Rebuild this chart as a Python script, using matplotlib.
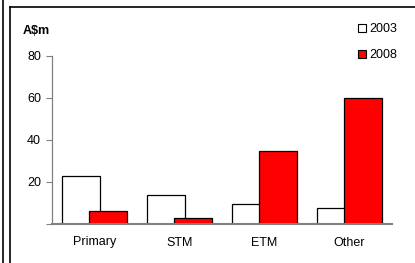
import matplotlib
matplotlib.use("Agg")
import matplotlib.pyplot as plt
from matplotlib.lines import Line2D

# data
categories = ["Primary", "STM", "ETM", "Other"]
years = ["2003", "2008"]
vals_2003 = [23, 14, 9.5, 7.5]
vals_2008 = [6, 3, 35, 60]
y_ticks = [0, 20, 40, 60, 80]

plt.rcParams["font.family"] = ["Liberation Sans", "DejaVu Sans"]

fig = plt.figure(figsize=(4.15, 2.63), dpi=100)
W, H = 415, 263

# panel frame (partial, like the cropped source)
fig.add_artist(Line2D([3 / W, 3 / W], [0, 1], color="black", lw=1.2))
fig.add_artist(Line2D([10 / W, 10 / W], [0, 1 - 6.5 / H], color="black", lw=1.2))
fig.add_artist(Line2D([10 / W, 1], [1 - 6.5 / H, 1 - 6.5 / H], color="black", lw=1.2))

ax = fig.add_axes([52 / W, (H - 224) / H, 340 / W, 168 / H])

x = range(len(categories))
w = 0.45
off = 0.16
ax.bar([i - off for i in x], vals_2003, width=w, color="white",
       edgecolor="black", lw=0.9, label=years[0], zorder=2)
ax.bar([i + off for i in x], vals_2008, width=w, color="#ff0000",
       edgecolor="black", lw=0.9, label=years[1], zorder=3)

ax.set_xlim(-0.5, 3.5)
ax.set_ylim(0, 80)
ax.set_yticks(y_ticks)
ax.set_yticklabels(["" if t == 0 else str(t) for t in y_ticks], fontsize=9)
ax.set_xticks(list(x))
ax.set_xticklabels(categories, fontsize=9)
ax.tick_params(axis="x", length=0, pad=9)
ax.tick_params(axis="y", length=4, width=0.8, color="#808080", pad=4)

for s in ["top", "right"]:
    ax.spines[s].set_visible(False)
ax.spines["left"].set_color("#808080")
ax.spines["left"].set_linewidth(0.9)
ax.spines["bottom"].set_color("#808080")
ax.spines["bottom"].set_linewidth(1.5)
ax.spines["bottom"].set_zorder(4)

fig.text(23 / W, 1 - 30.5 / H, "A$m", fontsize=9, fontweight="bold",
         va="center", ha="left")

leg = fig.legend(loc="upper left", bbox_to_anchor=(352 / W, 1 - 17 / H),
                 frameon=False, fontsize=9, handlelength=0.6,
                 handleheight=0.6, handletextpad=0.25, labelspacing=1.1,
                 borderpad=0)
for h in leg.legend_handles:
    h.set_linewidth(0.8)

fig.savefig("out.png", dpi=100)
